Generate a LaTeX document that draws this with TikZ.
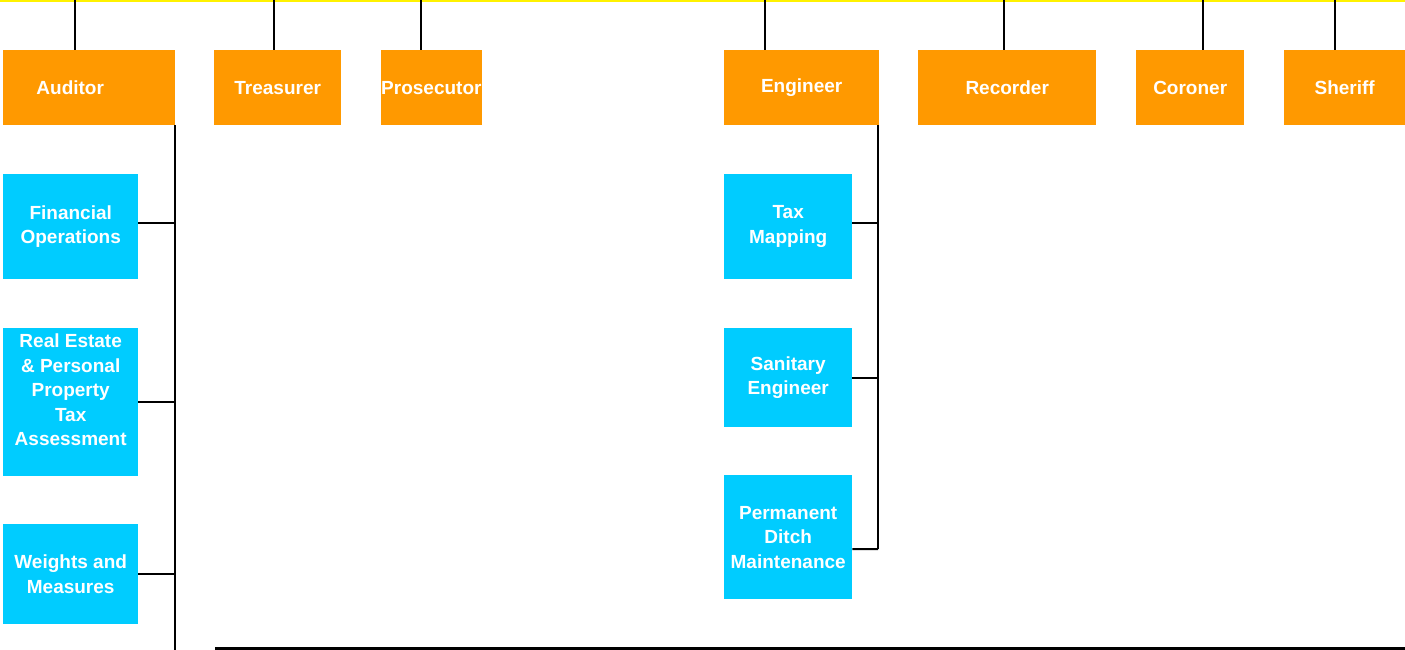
\documentclass[tikz,border=0pt]{standalone}
\usepackage{fontspec}
\setmainfont{Liberation Sans}
\usepackage{tikz}
\definecolor{officeOrange}{HTML}{FF9900}
\definecolor{unitCyan}{HTML}{00CCFF}
\newcommand{\boxFont}[0]{\bfseries\fontsize{19}{24.5}\selectfont}

\begin{document}
\begin{tikzpicture}[x=1pt, y=-1pt]
  \tikzset{every node/.style={inner sep=0pt, anchor=north west, align=center, text=white, font=\boxFont},
           office/.style={fill=officeOrange, minimum height=75pt},
           unit/.style={fill=unitCyan},
           link/.style={line width=2pt}}
  \useasboundingbox (0,0) rectangle (1405,650);
  \node[office, minimum width=172pt, label={[xshift=-19pt, anchor=center]center:Auditor}] (aud) at (3,50) {};
  \node[office, minimum width=127pt] (tre) at (214,50) {Treasurer};
  \node[office, minimum width=100pt] (pro) at (381,50) {Prosecutor};
  \node[office, minimum width=155pt] (eng) at (724,50) {Engineer};
  \node[office, minimum width=178pt] (rec) at (918,50) {Recorder};
  \node[office, minimum width=108pt] (cor) at (1136,50) {Coroner};
  \node[office, minimum width=121pt] (she) at (1284,50) {Sheriff};
  \node[unit, minimum width=135pt, minimum height=105pt] (fin) at (3,174) {Financial\\Operations};
  \node[unit, minimum width=135pt, minimum height=148pt,
        label={[yshift=12pt, anchor=center]center:{Real Estate\\\& Personal\\Property\\Tax\\Assessment}}] (rea) at (3,328) {};
  \node[unit, minimum width=135pt, minimum height=100pt] (wei) at (3,524) {Weights and\\Measures};
  \node[unit, minimum width=128pt, minimum height=105pt] (tax) at (724,174) {Tax\\Mapping};
  \node[unit, minimum width=128pt, minimum height=99pt] (san) at (724,328) {Sanitary\\Engineer};
  \node[unit, minimum width=128pt, minimum height=124pt] (dit) at (724,475) {Permanent\\Ditch\\Maintenance};
  \coordinate (barL) at (0,1);
  \coordinate (barR) at (1405,1);
  \draw[yellow, line width=2pt] (barL) -- (barR);
  \foreach \name/\xpos in {aud/75, tre/274, pro/421, eng/765, rec/1004, cor/1203, she/1335}
    \draw[link] (\xpos,0) -- (\name.north -| \xpos,0);
  \coordinate (audEnd) at (175,650);
  \coordinate (engEnd) at (878,549);
  \draw[link] (aud.south east -| audEnd) -- (audEnd);
  \draw[link] (eng.south east -| engEnd) -- (engEnd);
  \draw[link] ([yshift=4pt]fin.east) -- ([yshift=4pt]fin.east -| audEnd);
  \draw[link] (rea.east) -- (rea.east -| audEnd);
  \draw[link] (wei.east) -- (wei.east -| audEnd);
  \draw[link] ([yshift=4pt]tax.east) -- ([yshift=4pt]tax.east -| engEnd);
  \draw[link] (san.east) -- (san.east -| engEnd);
  \draw[link] ([yshift=-12pt]dit.east) -- (engEnd);
  \coordinate (baseL) at (215,648);
  \coordinate (baseR) at (1405,648);
  \draw[line width=3pt] (baseL) -- (baseR);
\end{tikzpicture}
\end{document}
